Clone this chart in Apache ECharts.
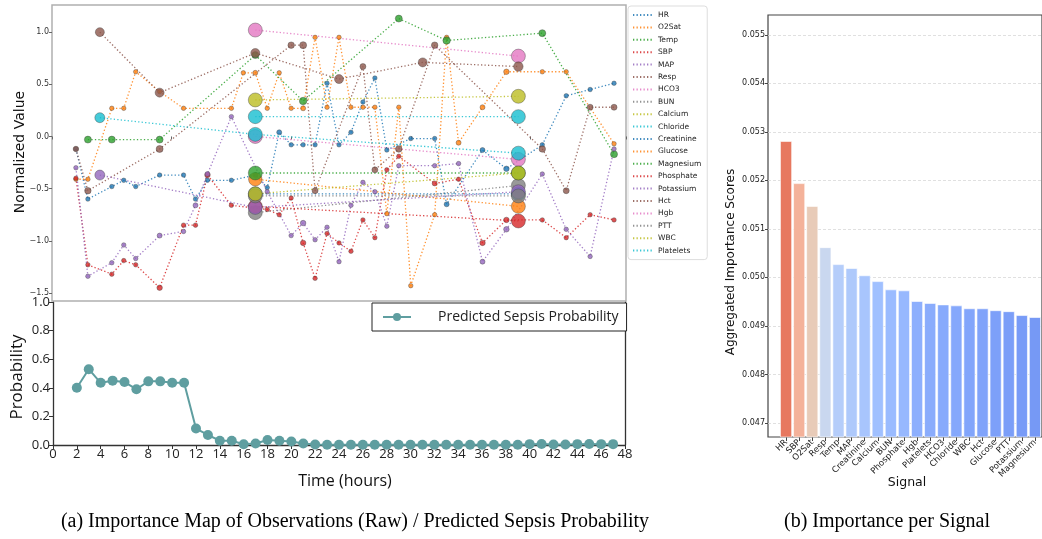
<!DOCTYPE html>
<html><head><meta charset="utf-8">
<script src="https://cdn.jsdelivr.net/npm/echarts@6/dist/echarts.min.js"></script>
<style>html,body{margin:0;padding:0;background:#fff}#c{width:1042px;height:539px}</style>
</head><body><div id="c"></div>
<script>
// ---------------- DATA ----------------
const signalNames = ['HR','O2Sat','Temp','SBP','MAP','Resp','HCO3','BUN','Calcium','Chloride','Creatinine','Glucose','Magnesium','Phosphate','Potassium','Hct','Hgb','PTT','WBC','Platelets'];
// observations: [hour, normalized value, importance]
const obsHR = [[2,-0.12,.05],[3,-0.60,.05],[5,-0.48,.05],[6,-0.42,.05],[7,-0.48,.05],[9,-0.37,.05],[11,-0.37,.05],[12,-0.60,.05],[13,-0.42,.05],[15,-0.42,.05],[17,-0.37,.1],[18,-0.49,.05],[19,0.04,.1],[20,-0.08,.05],[21,-0.08,.05],[22,-0.08,.05],[23,0.51,.05],[24,-0.08,.05],[25,0.04,.05],[26,0.33,.05],[27,0.56,.05],[28,-0.13,.05],[30,-0.02,.05],[32,-0.02,.05],[33,-0.65,.1],[36,-0.13,.1],[38,-0.31,.15],[41,-0.08,.05],[43,0.39,.05],[45,0.45,.05],[47,0.51,.05]];
const obsO2Sat = [[2,-0.41,.05],[3,-0.41,.05],[5,0.27,.05],[6,0.27,.05],[7,0.62,.05],[9,0.43,.05],[11,0.27,.05],[15,0.27,.05],[16,0.61,.05],[17,0.61,.1],[18,0.27,.05],[19,0.61,.05],[20,0.27,.05],[21,0.27,.1],[22,0.95,.05],[23,0.28,.05],[24,0.95,.05],[25,0.28,.05],[26,0.28,.05],[27,0.28,.05],[28,-0.74,.05],[29,0.28,.05],[30,-1.43,.05],[32,-0.75,.05],[33,0.95,.05],[34,-0.06,.1],[36,0.28,.1],[38,0.62,.15],[41,0.62,.05],[43,0.62,.05],[47,-0.07,.05]];
const obsTemp = [[3,-0.03,.3],[5,-0.03,.3],[9,-0.03,.3],[17,0.78,.3],[21,0.34,.35],[29,1.13,.3],[33,0.92,.35],[41,0.99,.3],[47,-0.17,.3]];
const obsSBP = [[2,-0.40,.05],[3,-1.23,.05],[5,-1.32,.05],[6,-1.19,.05],[7,-1.23,.05],[9,-1.45,.15],[11,-0.85,.05],[12,-0.85,.05],[13,-0.37,.15],[15,-0.66,.05],[18,-0.70,.05],[19,-0.75,.05],[20,-0.59,.05],[21,-1.02,.15],[22,-1.36,.05],[23,-0.93,.05],[24,-1.02,.05],[25,-1.10,.05],[26,-0.80,.05],[27,-0.97,.05],[28,-0.32,.05],[29,-0.19,.05],[32,-0.45,.1],[34,-0.41,.05],[36,-1.02,.15],[38,-0.80,.15],[41,-0.80,.05],[43,-0.97,.05],[45,-0.75,.05],[47,-0.80,.05]];
const obsMAP = [[2,-0.30,.05],[3,-1.34,.05],[5,-1.21,.05],[6,-1.04,.05],[7,-1.17,.05],[9,-0.95,.1],[11,-0.91,.05],[12,-0.66,.1],[13,-0.36,.1],[15,0.19,.05],[18,-0.53,.05],[20,-0.95,.05],[21,-0.83,.15],[22,-0.99,.05],[23,-0.87,.05],[24,-1.20,.05],[25,-0.66,.05],[26,-0.44,.05],[27,-0.53,.05],[28,-0.86,.05],[29,-0.28,.05],[32,-0.28,.05],[34,-0.26,.05],[36,-1.20,.1],[38,-0.89,.15],[41,-0.36,.05],[43,-0.89,.05],[45,-1.15,.05],[47,-0.12,.05]];
const obsResp = [[2,-0.12,.15],[3,-0.52,.25],[9,-0.12,.3],[20,0.875,.25],[21,0.875,.3],[22,-0.52,.2],[26,0.67,.2],[27,-0.32,.2],[29,-0.12,.25],[32,0.875,.25],[41,-0.12,.25],[43,-0.52,.2],[45,0.28,.2],[47,0.28,.2]];
const obsHCO3 = [[17,1.02,1],[39,0.77,1]];
const obsBUN = [[17,-0.73,1],[39,-0.47,1]];
const obsCalcium = [[17,0.35,1],[39,0.385,1]];
const obsChloride = [[17,0.19,1],[39,0.19,1]];
const obsCreatinine = [[17,-0.55,1],[39,-0.55,1]];
const obsGlucose = [[17,-0.41,0.95],[39,-0.67,1]];
const obsMagnesium = [[17,-0.35,1],[39,-0.35,1]];
const obsPhosphate = [[17,-0.67,1],[39,-0.81,1]];
const obsPotassium = [[4,-0.37,0.6],[17,-0.68,1],[39,-0.53,1]];
const obsHct = [[4,1.0,0.5],[9,0.42,0.5],[17,0.80,0.5],[24,0.55,0.5],[31,0.71,0.5],[39,0.67,0.55]];
const obsHgb = [[17,0.0,1],[39,-0.22,1]];
const obsPTT = [[17,-0.57,1],[39,-0.57,1]];
const obsWBC = [[17,-0.55,1],[39,-0.35,1]];
const obsPlatelets = [[4,0.18,0.6],[17,0.02,1],[39,-0.16,1]];
const observations = [obsHR,obsO2Sat,obsTemp,obsSBP,obsMAP,obsResp,obsHCO3,obsBUN,obsCalcium,obsChloride,obsCreatinine,obsGlucose,obsMagnesium,obsPhosphate,obsPotassium,obsHct,obsHgb,obsPTT,obsWBC,obsPlatelets];

const probHours = [2,3,4,5,6,7,8,9,10,11,12,13,14,15,16,17,18,19,20,21,22,23,24,25,26,27,28,29,30,31,32,33,34,35,36,37,38,39,40,41,42,43,44,45,46,47];
const probValues = [0.40,0.53,0.435,0.45,0.44,0.39,0.445,0.445,0.435,0.435,0.115,0.07,0.03,0.03,0.005,0.01,0.035,0.03,0.025,0.01,0.003,0.002,0.002,0.002,0.002,0.002,0.002,0.002,0.002,0.002,0.002,0.002,0.002,0.002,0.002,0.002,0.002,0.002,0.006,0.007,0.003,0.003,0.006,0.007,0.006,0.006];

const barSignals = ['HR','SBP','O2Sat','Resp','Temp','MAP','Creatinine','Calcium','BUN','Phosphate','Hgb','Platelets','HCO3','Chloride','WBC','Hct','Glucose','PTT','Potassium','Magnesium'];
const barScores = [0.05281,0.05194,0.05147,0.05062,0.05027,0.05019,0.05004,0.04992,0.04975,0.04973,0.04951,0.04947,0.04944,0.04942,0.04936,0.04936,0.04932,0.04930,0.04922,0.04918];

const probTicks = {min:0,max:1,interval:0.2};
const timeTicks = {min:0,max:48,interval:2};

// ---------------- STYLES ----------------
const lineColors = ['#1f77b4','#ff7f0e','#2ca02c','#d62728','#9467bd','#8c564b','#e377c2','#7f7f7f','#bcbd22','#17becf','#1f77b4','#ff7f0e','#2ca02c','#d62728','#9467bd','#8c564b','#e377c2','#7f7f7f','#bcbd22','#17becf'];
const barColors = ['#e7785f','#f4b29a','#e8cbb8','#c9d7ef','#b5cdfa','#aec9fb','#a8c5fd','#a0c0ff','#9abbff','#97b8fe','#8daffd','#8aacfc','#87aafc','#85a8fc','#82a5fb','#80a3fa','#7da0f9','#7b9ef8','#789bf7','#7699f5'];
const DV = 'DejaVu Sans';
const OS = 'Open Sans';
const minus = v => (v < 0 ? '\u2212' + (-v).toFixed(1) : v.toFixed(1));

const chart = echarts.init(document.getElementById('c'), null, {renderer:'canvas'});

const topSeries = signalNames.map((name, i) => ({
  name, type:'line', xAxisIndex:0, yAxisIndex:0,
  data: observations[i],
  symbol:'circle', symbolSize: d => 4 + 10 * d[2], showAllSymbol:true,
  lineStyle:{color:lineColors[i], width:1.3, type:[1.3,2.2], opacity:0.85},
  itemStyle:{color:lineColors[i], opacity:0.8, borderColor:'rgba(60,60,60,0.6)', borderWidth:0.8},
  emphasis:{disabled:true}, z:12
}));

const option = {
  animation:false,
  backgroundColor:'#fff',
  grid:[
    {left:52, top:5, width:574, height:296, show:true, borderColor:'#b0b0b0', borderWidth:1.5, backgroundColor:'#fff', z:8},
    {left:53, top:302, width:572, height:143},
    {left:779.5, top:15, width:262, height:422},
    {left:768, top:15, width:285, height:422, show:true, borderColor:'#444', borderWidth:1.2}
  ],
  xAxis:[
    {gridIndex:0, type:'value', min:0, max:48, interval:10, axisLine:{show:false}, axisTick:{show:true, length:3, lineStyle:{color:'#666'}}, axisLabel:{show:false}, splitLine:{show:false}, z:10},
    {gridIndex:1, type:'value', min:timeTicks.min, max:timeTicks.max, interval:timeTicks.interval, axisLine:{lineStyle:{color:'#333', width:1.3}}, axisTick:{length:4, lineStyle:{color:'#333'}}, axisLabel:{fontSize:13, fontFamily:OS, color:'#222', margin:3}, splitLine:{show:false}},
    {gridIndex:2, type:'category', data:barSignals, axisLine:{show:false}, axisTick:{show:true, alignWithLabel:true, length:4, lineStyle:{color:'#444'}}, axisLabel:{rotate:45, interval:0, fontSize:8.5, fontFamily:DV, color:'#222', margin:4}},
    {gridIndex:3, type:'value', min:0, max:1, show:false}
  ],
  yAxis:[
    {gridIndex:0, type:'value', min:-1.577, max:1.26, splitNumber:5, axisLine:{show:false}, axisTick:{length:3, lineStyle:{color:'#666'}}, axisLabel:{fontSize:8, fontFamily:DV, color:'#333', margin:3, showMinLabel:false, showMaxLabel:false, formatter:minus}, splitLine:{show:false}, z:10},
    {gridIndex:1, type:'value', min:probTicks.min, max:probTicks.max, interval:probTicks.interval, axisLine:{show:true, lineStyle:{color:'#333', width:1.3}}, axisTick:{show:true, length:4, lineStyle:{color:'#333'}}, axisLabel:{fontSize:13, fontFamily:OS, color:'#222', margin:3, formatter:v=>v.toFixed(1)}, splitLine:{show:false}, z:0},
    {gridIndex:1, type:'value', position:'right', min:0, max:1, axisLine:{show:true, lineStyle:{color:'#333', width:1.3}}, axisTick:{show:false}, axisLabel:{show:false}, splitLine:{show:false}},
    {gridIndex:2, type:'value', min:0.04671, max:0.05541, show:false},
    {gridIndex:3, type:'value', min:0.04671, max:0.05541, splitNumber:9, axisLine:{show:false}, axisTick:{show:true, length:3, lineStyle:{color:'#444'}}, axisLabel:{fontSize:8, fontFamily:DV, color:'#222', margin:3, showMinLabel:false, showMaxLabel:false, formatter:v=>v.toFixed(3)}, splitLine:{show:true, showMinLine:false, showMaxLine:false, lineStyle:{type:[3,2], color:'#d8d8d8', width:0.8}}}
  ],
  legend:[
    {data:signalNames, orient:'vertical', left:628, top:6, itemWidth:20, itemHeight:8, itemGap:2.4, padding:[4,6,4,4], borderColor:'#ddd', borderWidth:1, borderRadius:3, backgroundColor:'#fff', textStyle:{fontSize:7.5, fontFamily:DV, color:'#222', lineHeight:10}, itemStyle:{opacity:0}, selectedMode:false, z:12},
    {data:['Predicted Sepsis Probability'], left:372, top:303, itemWidth:28, itemHeight:10, padding:[7,8,7,10], borderColor:'#222', borderWidth:1, borderRadius:0, backgroundColor:'#fff', textStyle:{fontSize:14, fontFamily:OS, color:'#222', padding:[0,0,0,22]}, selectedMode:false, z:12}
  ],
  series:[
    ...topSeries,
    {name:'Predicted Sepsis Probability', type:'line', xAxisIndex:1, yAxisIndex:1,
     data:probHours.map((h,i)=>[h, probValues[i]]), symbol:'circle', symbolSize:10,
     lineStyle:{color:'#5f9ea0', width:2}, itemStyle:{color:'#5f9ea0'}, emphasis:{disabled:true}},
    {type:'bar', xAxisIndex:2, yAxisIndex:3, barCategoryGap:'10%', clip:true,
     data:barScores.map((v,i)=>({value:v, itemStyle:{color:barColors[i]}})),
     itemStyle:{borderColor:'#fff', borderWidth:0.6}, emphasis:{disabled:true}}
  ],
  graphic:[
    {type:'text', x:20, y:152, rotation:Math.PI/2, style:{text:'Normalized Value', font:'14px "DejaVu Sans"', fill:'#111', align:'center', verticalAlign:'middle'}},
    {type:'text', x:17, y:377, rotation:Math.PI/2, style:{text:'Probability', font:'17px "Open Sans"', fill:'#111', align:'center', verticalAlign:'middle'}},
    {type:'text', x:345, y:481, style:{text:'Time (hours)', font:'16px "Open Sans"', fill:'#111', align:'center', verticalAlign:'middle'}},
    {type:'text', x:731, y:262, rotation:Math.PI/2, style:{text:'Aggregated Importance Scores', font:'12px "DejaVu Sans"', fill:'#111', align:'center', verticalAlign:'middle'}},
    {type:'text', x:907, y:483, style:{text:'Signal', font:'12.5px "DejaVu Sans"', fill:'#111', align:'center', verticalAlign:'middle'}},
    {type:'text', x:355, y:522, style:{text:'(a) Importance Map of Observations (Raw) / Predicted Sepsis Probability', font:'20px "Liberation Serif"', fill:'#000', align:'center', verticalAlign:'middle'}},
    {type:'text', x:887, y:522, style:{text:'(b) Importance per Signal', font:'20px "Liberation Serif"', fill:'#000', align:'center', verticalAlign:'middle'}}
  ]
};
chart.setOption(option);
</script></body></html>
